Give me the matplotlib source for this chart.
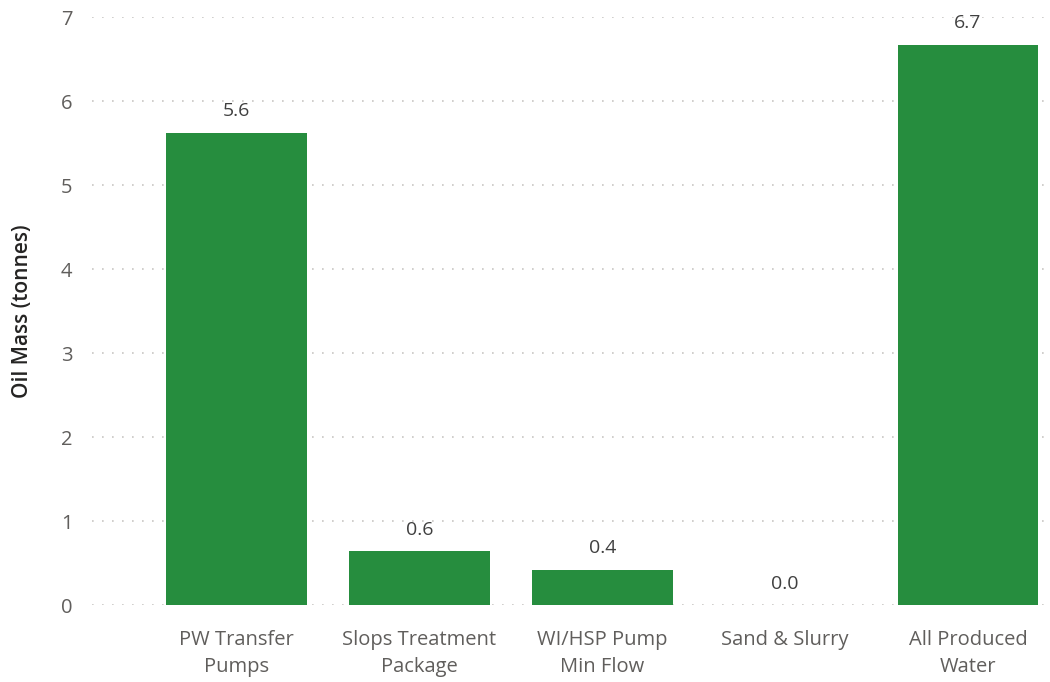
import matplotlib
matplotlib.use("Agg")
from matplotlib import pyplot as plt
import numpy as np

categories = ["PW Transfer\nPumps", "Slops Treatment\nPackage", "WI/HSP Pump\nMin Flow",
              "Sand & Slurry", "All Produced\nWater"]
oil_mass = [5.62, 0.64, 0.42, 0.0, 6.67]
y_ticks = [0, 1, 2, 3, 4, 5, 6, 7]

bar_color = "#268D3E"
tick_color = "#605E5C"

plt.rcParams['font.family'] = ['Open Sans', 'DejaVu Sans']

fig = plt.figure(figsize=(10.5, 6.82), dpi=100)
ax = fig.add_axes([0.0876, 0.1129, 0.9074, 0.8621])

x = np.arange(len(categories))
ax.bar(x, oil_mass, width=0.77, color=bar_color, zorder=3)

for xi, v in zip(x, oil_mass):
    ax.annotate(f"{v:.1f}", (xi, v), xytext=(0, 9), textcoords="offset points",
                ha="center", va="bottom", fontsize=14, color="#404040")

ax.set_xlim(-0.79, 4.42)
ax.set_ylim(0, 7)
ax.set_yticks(y_ticks)
ax.set_xticks(x)
ax.set_xticklabels(categories, fontsize=14.5, color=tick_color, linespacing=1.45)
ax.tick_params(axis="y", labelsize=14.5, labelcolor=tick_color, length=0, pad=14)
ax.tick_params(axis="x", length=0, pad=18)

ax.grid(axis="y", linestyle=(0, (1, 5)), color="#C8C6C4", linewidth=1.2, zorder=0)
for s in ax.spines.values():
    s.set_visible(False)

ax.set_ylabel("Oil Mass (tonnes)", fontsize=15, color="#252423", fontweight="semibold",
              labelpad=20)

plt.savefig("out.png", dpi=100)
